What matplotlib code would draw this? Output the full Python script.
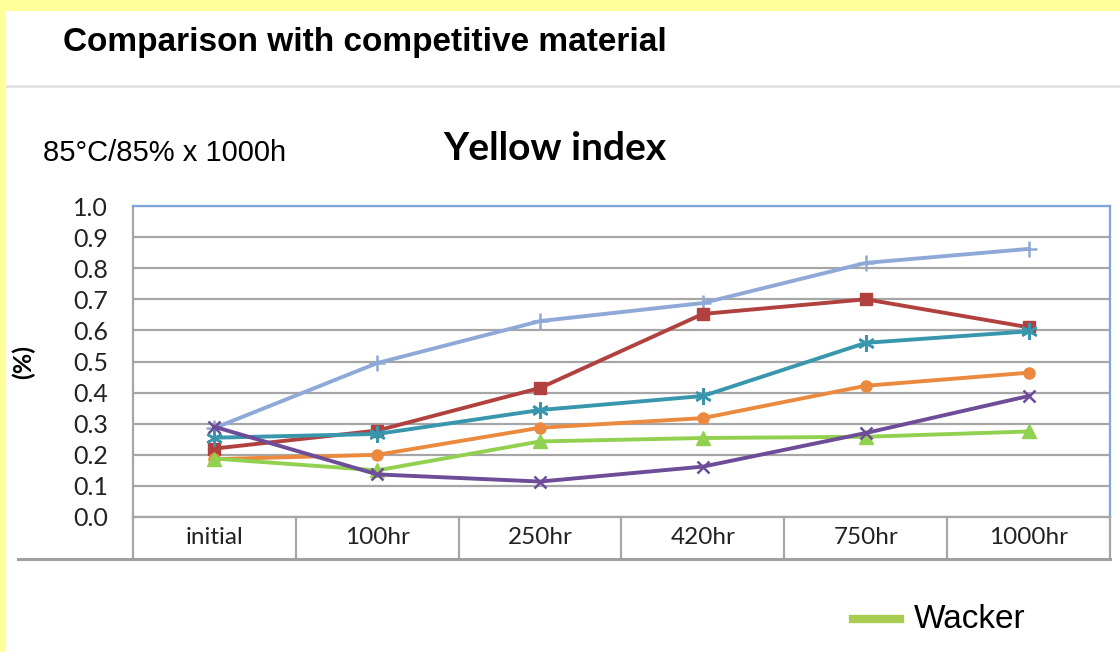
import matplotlib
matplotlib.use("Agg")
import matplotlib.pyplot as plt
from matplotlib.lines import Line2D
from matplotlib.patches import Rectangle

categories = ["initial", "100hr", "250hr", "420hr", "750hr", "1000hr"]
s_lightblue = [0.286, 0.495, 0.630, 0.688, 0.817, 0.862]
s_red = [0.220, 0.278, 0.415, 0.653, 0.700, 0.610]
s_teal = [0.255, 0.267, 0.344, 0.389, 0.560, 0.597]
s_orange = [0.186, 0.200, 0.287, 0.318, 0.422, 0.464]
s_green = [0.188, 0.150, 0.243, 0.254, 0.258, 0.275]
s_purple = [0.290, 0.137, 0.114, 0.162, 0.270, 0.389]
y_ticks = [0.0, 0.1, 0.2, 0.3, 0.4, 0.5, 0.6, 0.7, 0.8, 0.9, 1.0]

W, H = 1120, 652
fig = plt.figure(figsize=(W / 100, H / 100), dpi=100)
fig.patch.set_facecolor("white")

def fx(px):
    return px / W

def fy(py):
    return 1 - py / H

# yellow frame
fig.patches.append(Rectangle((0, fy(11)), 1, 11 / H, transform=fig.transFigure,
                             facecolor="#FFFF99", edgecolor="none", zorder=0))
fig.patches.append(Rectangle((0, 0), fx(6), 1, transform=fig.transFigure,
                             facecolor="#FFFF99", edgecolor="none", zorder=0))

# title + separator
fig.text(fx(63), fy(42), "Comparison with competitive material", fontsize=24,
         fontweight="bold", family="Liberation Sans", va="center", ha="left")
fig.lines.append(Line2D([fx(7), 1], [fy(86), fy(86)], transform=fig.transFigure,
                        color="#E2E2E2", lw=2))

fig.text(fx(43), fy(153), "85°C/85% x 1000h", fontsize=21, family="Liberation Sans",
         va="center", ha="left")

fig.text(fx(555), fy(148), "Yellow index", fontsize=28, fontweight="bold",
         family="Lato", va="center", ha="center")

ax_l, ax_r, ax_t, ax_b = 133, 1110, 206, 517
ax = fig.add_axes([fx(ax_l), fy(ax_b), (ax_r - ax_l) / W, (ax_b - ax_t) / H])

x = list(range(len(categories)))
series = [
    (s_lightblue, "#8EA9D8", "+", 11, 1.8),
    (s_red, "#B0413E", "s", 8, 1),
    (s_teal, "#3896AD", (6, 2, 0), 12, 1.8),
    (s_orange, "#EB8A3E", "o", 8, 1),
    (s_green, "#92D050", "^", 10, 1),
    (s_purple, "#6D4C98", "x", 9, 1.8),
]
for vals, col, mk, ms, mew in series:
    ax.plot(x, vals, color=col, lw=2.8, marker=mk, markersize=ms,
            markeredgewidth=mew, markeredgecolor=col, markerfacecolor=col,
            clip_on=False, zorder=3)

ax.set_xlim(-0.5, len(categories) - 0.5)
ax.set_ylim(0, 1.0)
ax.set_yticks(y_ticks)
ax.set_yticklabels([f"{v:.1f}" for v in y_ticks], family="Lato", fontsize=18,
                   color="#222222")
ax.tick_params(axis="y", length=0, pad=18)
ax.set_xticks(x)
ax.set_xticklabels(categories, family="Lato", fontsize=17.5, color="#222222")
ax.tick_params(axis="x", length=0, pad=7)
ax.grid(axis="y", color="#A6A6A6", lw=1.6)
ax.set_axisbelow(True)
for side in ["top", "right"]:
    ax.spines[side].set_color("#7EA6DA")
    ax.spines[side].set_linewidth(1.6)
ax.spines["left"].set_color("#A6A6A6")
ax.spines["left"].set_linewidth(1.6)
ax.spines["bottom"].set_color("#A6A6A6")
ax.spines["bottom"].set_linewidth(1.6)

# category table below axis
tbl_bottom = (ax_b - 559) / (ax_b - ax_t)
for i in range(len(categories) + 1):
    ax.plot([i - 0.5, i - 0.5], [0, tbl_bottom], color="#A6A6A6", lw=1.6,
            clip_on=False, zorder=2)
fig.lines.append(Line2D([fx(18), fx(ax_r)], [fy(559), fy(559)],
                        transform=fig.transFigure, color="#A0A0A0", lw=2.2))

fig.text(fx(23), fy(362), "(%)", rotation=90, fontsize=18, fontweight="bold",
         family="Lato", va="center", ha="center")

# legend fragment
fig.lines.append(Line2D([fx(853), fx(900)], [fy(619), fy(619)],
                        transform=fig.transFigure, color="#A9CC52", lw=6))
fig.text(fx(914), fy(619), "Wacker", fontsize=24, family="Liberation Sans",
         va="center", ha="left")

fig.savefig("out.png", dpi=100)
